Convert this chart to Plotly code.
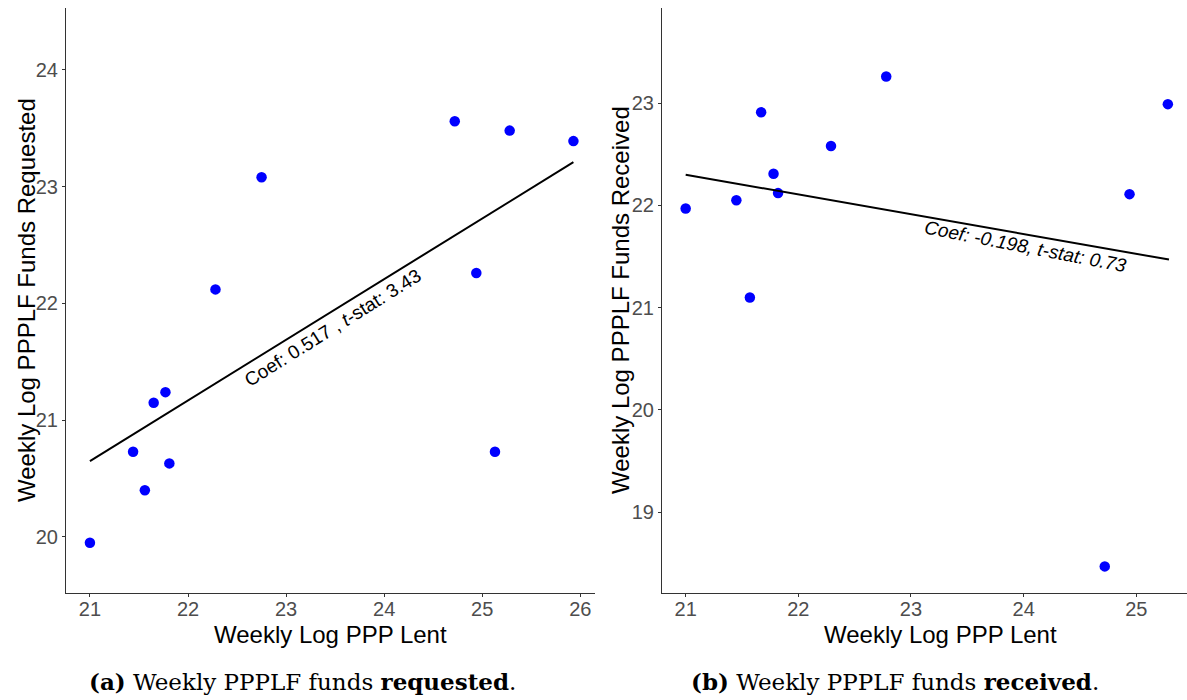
import plotly.graph_objects as go

# Panel (a): requested
lent_a = [21.00, 21.44, 21.56, 21.65, 21.77, 21.81, 22.28, 22.75, 24.72, 24.94, 25.13, 25.28, 25.93]
requested = [19.95, 20.73, 20.40, 21.15, 21.24, 20.63, 22.12, 23.08, 23.56, 22.26, 20.73, 23.48, 23.39]
fit_a_x = [21.00, 25.93]
fit_a_y = [20.65, 23.21]

# Panel (b): received
lent_b = [21.00, 21.45, 21.57, 21.67, 21.78, 21.82, 22.29, 22.78, 24.72, 24.94, 25.28]
received = [21.97, 22.05, 21.10, 22.91, 22.31, 22.12, 22.58, 23.26, 18.47, 22.11, 22.99]
fit_b_x = [21.00, 25.29]
fit_b_y = [22.30, 21.47]

text_a = "Coef: 0.517 , <i>t</i>-stat: 3.43"
text_b = "<i>Coef: -0.198, t-stat: 0.73</i>"
xtitle = "Weekly Log PPP Lent"
ytitle_a = "Weekly Log PPPLF Funds Requested"
ytitle_b = "Weekly Log PPPLF Funds Received"
cap_a = "<b>(a)</b> Weekly PPPLF funds <b>requested</b>."
cap_b = "<b>(b)</b> Weekly PPPLF funds <b>received</b>."

W, H = 1187, 700
fig = go.Figure()

marker = dict(color="#0000FF", size=10.5)
line = dict(color="black", width=2)

fig.add_trace(go.Scatter(x=lent_a, y=requested, mode="markers", marker=marker,
                         xaxis="x", yaxis="y", showlegend=False))
fig.add_trace(go.Scatter(x=fit_a_x, y=fit_a_y, mode="lines", line=line,
                         xaxis="x", yaxis="y", showlegend=False))
fig.add_trace(go.Scatter(x=lent_b, y=received, mode="markers", marker=marker,
                         xaxis="x2", yaxis="y2", showlegend=False))
fig.add_trace(go.Scatter(x=fit_b_x, y=fit_b_y, mode="lines", line=line,
                         xaxis="x2", yaxis="y2", showlegend=False))

tickfont = dict(family="Liberation Sans, Arial", size=20, color="#4D4D4D")
axis_common = dict(showgrid=False, zeroline=False, showline=True, linecolor="#333333",
                   linewidth=1.2, ticks="outside", ticklen=3, tickcolor="#333333",
                   tickfont=tickfont)

fig.update_layout(
    width=W, height=H,
    margin=dict(l=0, r=0, t=0, b=0),
    paper_bgcolor="white", plot_bgcolor="white",
    xaxis=dict(domain=[66 / W, 595 / W], range=[20.756, 26.15], tickvals=[21, 22, 23, 24, 25, 26],
               anchor="y", ticklabelstandoff=-5, **axis_common),
    yaxis=dict(domain=[(H - 593) / H, (H - 8) / H], range=[19.52, 24.53], tickvals=[20, 21, 22, 23, 24],
               anchor="x", **axis_common),
    xaxis2=dict(domain=[662 / W, 1.0], range=[20.79, 25.45], tickvals=[21, 22, 23, 24, 25],
                anchor="y2", ticklabelstandoff=-5, **axis_common),
    yaxis2=dict(domain=[(H - 593) / H, (H - 8) / H], range=[18.21, 23.93], tickvals=[19, 20, 21, 22, 23],
                anchor="x2", **axis_common),
)

titlefont = dict(family="Liberation Sans, Arial", size=24, color="black")
capfont = dict(family="DejaVu Serif, Liberation Serif, serif", size=23, color="black")
notefont = dict(family="Liberation Sans, Arial", size=19, color="black")

annotations = [
    dict(text=xtitle, x=330 / W, y=1 - 634 / H, xref="paper", yref="paper",
         showarrow=False, font=titlefont, xanchor="center", yanchor="middle"),
    dict(text=xtitle, x=940 / W, y=1 - 634 / H, xref="paper", yref="paper",
         showarrow=False, font=titlefont, xanchor="center", yanchor="middle"),
    dict(text=ytitle_a, x=26 / W, y=1 - 300 / H, xref="paper", yref="paper", textangle=-90,
         showarrow=False, font=titlefont, xanchor="center", yanchor="middle"),
    dict(text=ytitle_b, x=620 / W, y=1 - 300 / H, xref="paper", yref="paper", textangle=-90,
         showarrow=False, font=titlefont, xanchor="center", yanchor="middle"),
    dict(text=cap_a, x=303 / W, y=1 - 681 / H, xref="paper", yref="paper",
         showarrow=False, font=capfont, xanchor="center", yanchor="middle"),
    dict(text=cap_b, x=895 / W, y=1 - 681 / H, xref="paper", yref="paper",
         showarrow=False, font=capfont, xanchor="center", yanchor="middle"),
    dict(text=text_a, x=23.48, y=21.79, xref="x", yref="y", textangle=-32,
         showarrow=False, font=notefont, xanchor="center", yanchor="middle"),
    dict(text=text_b, x=24.02, y=21.60, xref="x2", yref="y2", textangle=11,
         showarrow=False, font=notefont, xanchor="center", yanchor="middle"),
]
fig.update_layout(annotations=annotations)

fig.write_html("out.html", config={"displayModeBar": False},
               post_script="document.body.style.margin='0';document.body.style.overflow='hidden';")
